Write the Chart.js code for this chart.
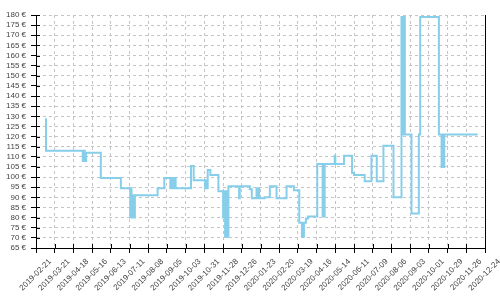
<!DOCTYPE html>
<html>
<head>
<meta charset="utf-8">
<script src="https://cdn.jsdelivr.net/npm/chart.js@4/dist/chart.umd.min.js"></script>
<style>
  html, body { margin: 0; padding: 0; background: #fff; }
  #box { width: 500px; height: 300px; }
</style>
</head>
<body>
<div id="box"><canvas id="chart"></canvas></div>
<script>
// price history, days counted from 2019-02-21 (x axis start)
const dayOffsets = [
  15, 15, 70, 72, 73, 75, 97, 127, 141, 142, 143, 145, 146, 148, 182, 192,
  201, 203, 205, 207, 209, 232, 236, 253, 254, 255, 257, 261, 273, 280, 281, 282,
  283, 284, 285, 286, 287, 288, 304, 305, 320, 323, 330, 331, 332, 334, 342, 350,
  360, 375, 386, 394, 398, 401, 404, 407, 421, 429, 430, 431, 432, 447, 448, 461,
  473, 476, 492, 502, 510, 520, 535, 547, 548, 549, 550, 551, 552, 562, 573, 575,
  603, 607, 608, 609, 611, 661
];
const prices = [
  129, 113, 108, 113, 108, 112, 99.5, 94.5, 80, 94.5, 80, 91, 80, 91, 94.5, 99.5,
  94.5, 99.5, 94.5, 99.5, 94.5, 105.5, 98.5, 94.5, 98.5, 94.5, 103.5, 101, 93, 80, 93, 80,
  70.5, 93, 70.5, 80, 70.5, 95.5, 89.5, 95.5, 94, 89.5, 94.5, 89.5, 94.5, 89.5, 90, 95.5,
  89.5, 95.5, 93.5, 77.5, 70.5, 77.5, 79.5, 80.5, 106.5, 80.5, 106.5, 80.5, 106.5, 110.5, 106.5, 110.5,
  102, 101, 98, 110.5, 98, 115.5, 90, 179, 121, 179, 121, 179, 121, 82, 121, 179,
  121, 105, 121, 105, 121, 121
];

// x tick labels, one every 28 days
const tickLabels = [
  "2019-02-21", "2019-03-21", "2019-04-18", "2019-05-16", "2019-06-13",
  "2019-07-11", "2019-08-08", "2019-09-05", "2019-10-03", "2019-10-31",
  "2019-11-28", "2019-12-26", "2020-01-23", "2020-02-20", "2020-03-19",
  "2020-04-16", "2020-05-14", "2020-06-11", "2020-07-09", "2020-08-06",
  "2020-09-03", "2020-10-01", "2020-10-29", "2020-11-26", "2020-12-24"
];
const tickStep = 28;

const points = dayOffsets.map((d, i) => ({ x: d, y: prices[i] }));

Chart.defaults.font.family = "'Liberation Sans', Arial, sans-serif";
Chart.defaults.font.size = 8;
Chart.defaults.color = "#444";

// right border line + inner half of the tick marks
const frameLines = {
  id: "frameLines",
  afterDraw(chart) {
    const { ctx, chartArea: a, scales } = chart;
    ctx.save();
    ctx.strokeStyle = "#000";
    ctx.lineWidth = 1;
    ctx.beginPath();
    const rx = Math.round(a.right) + 0.5;
    ctx.moveTo(rx, a.top);
    ctx.lineTo(rx, a.bottom);
    scales.y.ticks.forEach((t) => {
      const py = Math.round(scales.y.getPixelForValue(t.value)) + 0.5;
      ctx.moveTo(a.left, py);
      ctx.lineTo(a.left + 4, py);
    });
    scales.x.ticks.forEach((t) => {
      const px = Math.round(scales.x.getPixelForValue(t.value)) + 0.5;
      ctx.moveTo(px, a.bottom);
      ctx.lineTo(px, a.bottom - 4);
    });
    ctx.stroke();
    ctx.restore();
  }
};

const gridColor = (c) => (c.index === 0 ? "rgba(0,0,0,0)" : "#c4c4c4");

new Chart(document.getElementById("chart"), {
  type: "line",
  data: {
    datasets: [{
      data: points,
      borderColor: "#87ceeb",
      borderWidth: 2,
      pointRadius: 0,
      fill: false,
      stepped: "before"
    }]
  },
  options: {
    responsive: true,
    maintainAspectRatio: false,
    animation: false,
    layout: { padding: { top: 15, right: 15, left: 0, bottom: 0 } },
    plugins: { legend: { display: false }, tooltip: { enabled: false } },
    scales: {
      x: {
        type: "linear",
        min: 0,
        max: tickStep * (tickLabels.length - 1),
        grid: { color: gridColor, tickColor: "#000", tickLength: 5 },
        border: { color: "#000", width: 1, dash: [3, 3] },
        ticks: {
          stepSize: tickStep,
          maxTicksLimit: 40,
          autoSkip: false,
          minRotation: 45,
          maxRotation: 45,
          labelOffset: 14,
          padding: 4,
          callback: (v) => tickLabels[Math.round(v / tickStep)]
        },
        afterFit: (s) => { s.height = 52; s.paddingLeft = 0; s.paddingRight = 0; }
      },
      y: {
        min: 65,
        max: 180,
        grid: { color: gridColor, tickColor: "#000", tickLength: 5 },
        border: { color: "#000", width: 1, dash: [3, 3] },
        ticks: {
          stepSize: 5,
          maxTicksLimit: 40,
          autoSkip: false,
          padding: 5,
          callback: (v) => v + " €"
        },
        afterFit: (s) => { s.width = 36; s.paddingTop = 0; s.paddingBottom = 0; }
      }
    }
  },
  plugins: [frameLines]
});
</script>
</body>
</html>
